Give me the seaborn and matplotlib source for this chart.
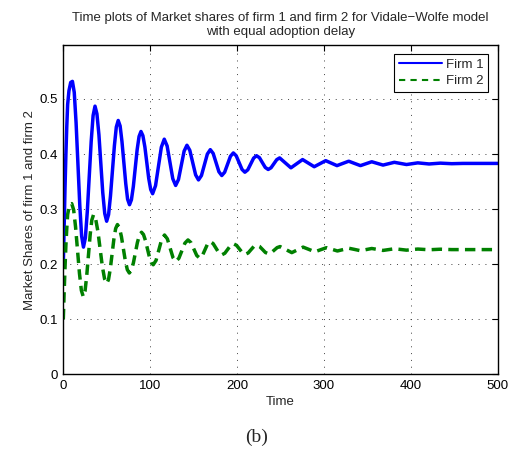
import matplotlib
matplotlib.use("Agg")
import matplotlib.pyplot as plt
import seaborn as sns
import pandas as pd
from matplotlib.lines import Line2D

# ---- data ----
t_firm1 = [0, 1, 2, 3, 4, 5, 6.5, 8.5, 10.5,
           12.6, 14.7, 16.85, 19.0, 21.1, 23.2,
           25.4, 27.6, 29.85, 32.1, 34.3, 36.5,
           38.7, 41.0, 43.2, 45.4, 47.7, 49.9,
           52.1, 54.3, 56.55, 58.8, 61.0, 63.2,
           65.4, 67.5, 69.7, 71.9, 74.0, 76.2,
           78.4, 80.6, 82.8, 85.0, 87.2, 89.4,
           91.6, 93.9, 96.1, 98.3, 100.6, 102.8,
           106.15, 109.5, 112.85, 116.2,
           119.5, 122.75, 126.0, 129.3,
           132.55, 135.8, 139.05, 142.3,
           145.6, 148.95, 152.3, 155.6,
           159.0, 162.4, 165.8, 169.2,
           172.5, 175.8, 179.1, 182.4,
           185.7, 189.05, 192.4, 195.7,
           199.0, 202.35, 205.7, 209.0,
           212.35, 215.7, 219.05, 222.4,
           225.75, 229.1, 232.45, 235.8,
           239.1, 242.4, 245.7, 249.0,
           255.5, 262.0, 268.7, 275.4, 282.1, 288.8, 295.4, 302.0,
           308.5, 315.0, 321.7, 328.5, 335.2, 342.0, 348.5, 355.0,
           361.5, 368.0, 374.5, 381.0, 388.0, 395.0, 401.5, 408.0,
           421.0, 434.0, 447.0, 460.0, 500.0]
v_firm1 = [0.200, 0.270, 0.340, 0.400, 0.450, 0.490, 0.515, 0.530, 0.532,
           0.512, 0.457, 0.3815, 0.306, 0.251, 0.231,
           0.248, 0.295, 0.359, 0.423, 0.470, 0.487,
           0.473, 0.435, 0.3825, 0.330, 0.292, 0.278,
           0.290, 0.324, 0.3695, 0.415, 0.449, 0.461,
           0.451, 0.423, 0.3845, 0.346, 0.318, 0.308,
           0.317, 0.341, 0.3745, 0.408, 0.432, 0.441,
           0.4334, 0.4128, 0.3845, 0.356, 0.3356, 0.328,
           0.3425, 0.3775, 0.4125, 0.427,
           0.4147, 0.385, 0.3553, 0.343,
           0.3537, 0.3795, 0.4053, 0.416,
           0.4068, 0.3845, 0.3622, 0.353,
           0.361, 0.3805, 0.400, 0.408,
           0.4011, 0.3845, 0.3679, 0.361,
           0.367, 0.3815, 0.396, 0.402,
           0.3969, 0.3845, 0.3721, 0.367,
           0.3714, 0.382, 0.3926, 0.397,
           0.3934, 0.3845, 0.3757, 0.372,
           0.3751, 0.3825, 0.3899, 0.393,
           0.384, 0.375, 0.3825, 0.390, 0.3835, 0.377, 0.3825, 0.388,
           0.3835, 0.379, 0.383, 0.387, 0.383, 0.379, 0.3825, 0.386,
           0.383, 0.380, 0.3825, 0.385, 0.383, 0.381, 0.3825, 0.384,
           0.382, 0.3835, 0.3825, 0.383, 0.383]

t_firm2 = [0, 1, 2, 3, 4, 5, 6.5, 8.0, 9.7,
           11.9, 14.1, 16.35, 18.6, 20.8, 23.0,
           25.0, 26.9, 28.9, 30.9, 32.8, 34.8,
           37.3, 39.9, 42.4, 44.9, 47.5, 50.0,
           52.05, 54.1, 56.15, 58.2, 60.25, 62.3,
           64.6, 66.9, 69.15, 71.4, 73.7, 76.0,
           78.3, 80.7, 83.0, 85.3, 87.7, 90.0,
           92.25, 94.5, 96.75, 99.0, 101.25, 103.5,
           106.75, 110.0, 113.25, 116.5,
           119.75, 123.0, 126.25, 129.5,
           133.0, 136.5, 140.0, 143.5,
           146.9, 150.25, 153.6, 157.0,
           160.0, 163.0, 166.0, 169.0,
           172.4, 175.75, 179.1, 182.5,
           185.9, 189.25, 192.6, 196.0,
           199.4, 202.75, 206.1, 209.5,
           212.75, 216.0, 219.25, 222.5,
           225.9, 229.25, 232.6, 236.0,
           239.4, 242.75, 246.1, 249.5,
           256.25, 263.0, 269.5, 276.0, 282.75, 289.5, 296.25, 303.0,
           309.25, 315.5, 322.0, 328.5, 335.25, 342.0, 348.5, 355.0,
           361.5, 368.0, 374.5, 381.0, 388.0, 395.0, 408.0,
           421.0, 434.0, 447.0, 500.0]
v_firm2 = [0.100, 0.150, 0.195, 0.235, 0.265, 0.290, 0.303, 0.309, 0.310,
           0.2987, 0.2678, 0.2255, 0.1833, 0.1523, 0.141,
           0.151, 0.178, 0.2155, 0.253, 0.280, 0.290,
           0.2816, 0.2588, 0.2275, 0.1963, 0.1734, 0.165,
           0.1722, 0.1918, 0.2185, 0.2453, 0.2648, 0.272,
           0.2661, 0.250, 0.228, 0.206, 0.1899, 0.184,
           0.189, 0.2025, 0.221, 0.2395, 0.253, 0.258,
           0.254, 0.2433, 0.2285, 0.2138, 0.203, 0.199,
           0.2069, 0.226, 0.2451, 0.253,
           0.2460, 0.229, 0.212, 0.205,
           0.2107, 0.2245, 0.2383, 0.244,
           0.2392, 0.2275, 0.2158, 0.211,
           0.2154, 0.226, 0.2366, 0.241,
           0.2375, 0.229, 0.2205, 0.217,
           0.2199, 0.227, 0.2341, 0.237,
           0.2342, 0.2275, 0.2208, 0.218,
           0.2204, 0.2263, 0.2321, 0.2345,
           0.2322, 0.2268, 0.2213, 0.219,
           0.2209, 0.2255, 0.2301, 0.232,
           0.2265, 0.221, 0.226, 0.231, 0.2268, 0.2225, 0.2263, 0.230,
           0.227, 0.224, 0.2265, 0.229, 0.2268, 0.2245, 0.2265, 0.2285,
           0.2268, 0.225, 0.2265, 0.228, 0.2268, 0.2255, 0.2275,
           0.2262, 0.2272, 0.2265, 0.2265]

series_names = ["Firm 1", "Firm 2"]
x_ticks = [0, 100, 200, 300, 400, 500]
y_ticks = [0, 0.1, 0.2, 0.3, 0.4, 0.5]
y_tick_labels = ["0", "0.1", "0.2", "0.3", "0.4", "0.5"]

df = pd.concat([
    pd.DataFrame({"Time": t_firm1, "Share": v_firm1, "Firm": series_names[0]}),
    pd.DataFrame({"Time": t_firm2, "Share": v_firm2, "Firm": series_names[1]}),
], ignore_index=True)

sns.set_style("white")
plt.rcParams["font.family"] = ["Liberation Sans", "DejaVu Sans"]

colors = {"Firm 1": (0, 0, 1), "Firm 2": (0, 0.5, 0)}

fig = plt.figure(figsize=(5.13, 4.58), dpi=100)
ax = fig.add_axes([0.1234, 0.1827, 0.8468, 0.7190])

sns.lineplot(data=df, x="Time", y="Share", hue="Firm", style="Firm",
             palette=colors, dashes={"Firm 1": "", "Firm 2": (3, 1.8)},
             linewidth=2.5, sort=False, estimator=None, ax=ax, legend=False)

ax.set_xlim(0, 500)
ax.set_ylim(0, 0.598)
ax.set_xticks(x_ticks)
ax.set_xticklabels([str(v) for v in x_ticks])
ax.set_yticks(y_ticks)
ax.set_yticklabels(y_tick_labels)
ax.grid(True, linestyle=(0, (1, 6)), color="0.25", linewidth=0.7)
ax.tick_params(direction="in", length=4, width=0.8, top=True, right=True,
               labelsize=9.5, colors="black", pad=4)
for s in ax.spines.values():
    s.set_visible(True)
    s.set_color("black")
    s.set_linewidth(1.0)

ax.set_xlabel("Time", fontsize=9.5, labelpad=3)
ax.set_ylabel("Market Shares of firm 1 and firm 2", fontsize=9.5, labelpad=2)
ax.set_title("Time plots of Market shares of firm 1 and firm 2 for Vidale\u2212Wolfe model\nwith equal adoption delay",
             fontsize=9.5, pad=7, linespacing=1.3)

handles = [Line2D([], [], color=colors["Firm 1"], lw=1.5),
           Line2D([], [], color=colors["Firm 2"], lw=1.5, dashes=(3, 2.5))]
leg = ax.legend(handles, series_names, loc="upper right", fontsize=9.5,
                frameon=True, fancybox=False, framealpha=1, edgecolor="black",
                borderpad=0.35, handlelength=3.3, handletextpad=0.3,
                labelspacing=0.3, borderaxespad=0.7)
leg.get_frame().set_linewidth(0.8)

fig.text(0.5, 0.045, "(b)", ha="center", va="center", fontsize=14,
         family=["Liberation Serif", "DejaVu Serif"])

fig.savefig("out.png", dpi=100)
